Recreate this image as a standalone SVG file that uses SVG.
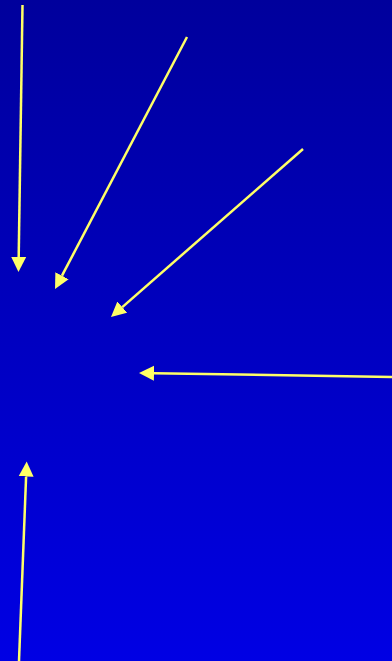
<svg xmlns="http://www.w3.org/2000/svg" width="392" height="661" viewBox="0 0 392 661">
<defs>
<linearGradient id="bg" x1="0" y1="0" x2="0" y2="1">
<stop offset="0" stop-color="#00009c"/>
<stop offset="1" stop-color="#0000e4"/>
</linearGradient>
<marker id="ah" markerUnits="userSpaceOnUse" markerWidth="16" markerHeight="16" viewBox="0 0 16 16" refX="0" refY="8" orient="auto">
<path d="M0,0.5 L15,8 L0,15.5 Z" fill="#ffff66"/>
</marker>
<style>
.c{stroke:#ffff66;stroke-width:2.5;fill:none;marker-end:url(#ah)}
</style>
</defs>
<rect width="392" height="661" fill="url(#bg)"/>
<g id="connectors">
<line class="c" x1="22.5" y1="5" x2="18.7" y2="257"/>
<line class="c" x1="187" y1="37" x2="62" y2="275.7"/>
<line class="c" x1="303" y1="149" x2="122.3" y2="307.1"/>
<line class="c" x1="392" y1="377" x2="154" y2="373.2"/>
<line class="c" x1="19" y1="661" x2="26.1" y2="476.5"/>
</g>
</svg>
